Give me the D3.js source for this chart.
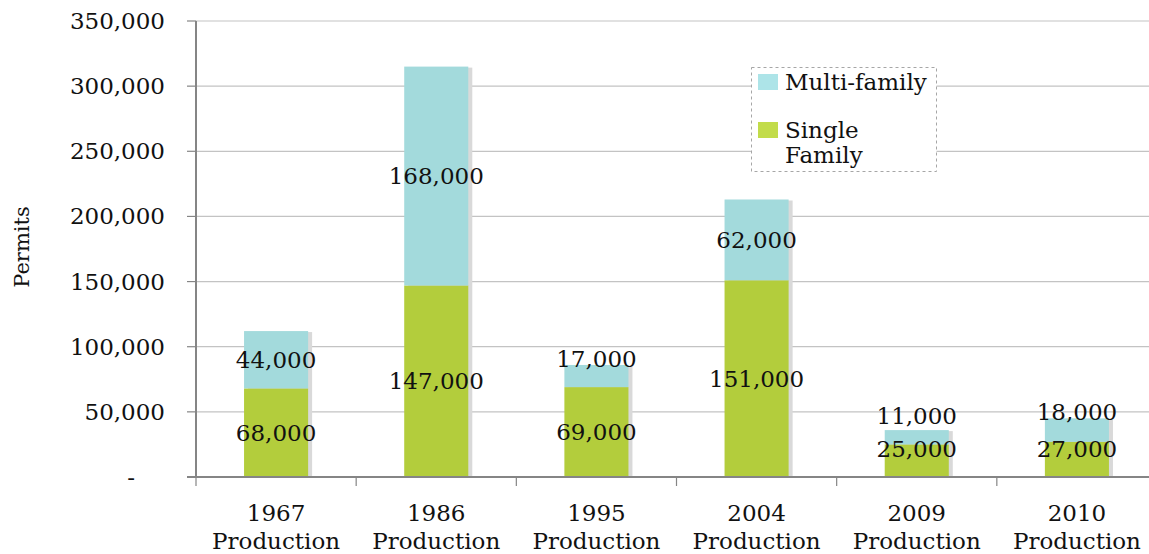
<!DOCTYPE html>
<html><head><meta charset="utf-8">
<script src="https://cdn.jsdelivr.net/npm/d3@7"></script>
<style>
body{margin:0;background:#fff;}
text{font-family:"DejaVu Serif",serif;fill:#111;}
</style></head>
<body><svg id="c" width="1149" height="554"></svg>
<script>
const years = ["1967","1986","1995","2004","2009","2010"];
const subLabel = "Production";
const singleFamily = [68000,147000,69000,151000,25000,27000];
const multiFamily = [44000,168000,17000,62000,11000,18000];
const yTicks = [0,50000,100000,150000,200000,250000,300000,350000];
const seriesNames = ["Multi-family","Single Family"];

const W=1149,H=554;
const svg=d3.select("#c");
const pLeft=196, pRight=1157, pTop=21, pBottom=477;
const x=d3.scaleBand().domain(years).range([pLeft,pRight]).paddingInner(0.6).paddingOuter(0.3);
const y=d3.scaleLinear().domain([0,350000]).range([pBottom,pTop]);
const fmt=d3.format(",");
const cSingle="#b3cd3c", cMulti="#a3dadc", cShadow="#d9d9d9", axisC="#858585", gridC="#c3c3c3";

// gridlines
svg.append("g").selectAll("line").data(yTicks.filter(d=>d>0)).join("line")
  .attr("x1",pLeft).attr("x2",W).attr("y1",d=>y(d)).attr("y2",d=>y(d))
  .attr("stroke",gridC).attr("stroke-width",1.2);
// y tick marks
svg.append("g").selectAll("line").data(yTicks).join("line")
  .attr("x1",pLeft-9).attr("x2",pLeft).attr("y1",d=>y(d)).attr("y2",d=>y(d))
  .attr("stroke",axisC).attr("stroke-width",1.2);
// y labels
svg.append("g").selectAll("text").data(yTicks).join("text")
  .attr("x",d=>d===0?135:165).attr("y",d=>y(d)).attr("dy","0.35em")
  .attr("text-anchor","end").attr("font-size",23)
  .text(d=>d===0?"-":fmt(d));
// y title
svg.append("text").attr("transform","translate(29,247) rotate(-90)")
  .attr("text-anchor","middle").attr("font-size",21).text("Permits");

// bars
const data=years.map((yr,i)=>({yr,s:singleFamily[i],m:multiFamily[i]}));
const g=svg.append("g");
g.selectAll("rect.sh").data(data).join("rect").attr("class","sh")
  .attr("x",d=>x(d.yr)+4).attr("width",x.bandwidth())
  .attr("y",d=>y(d.s+d.m)+1).attr("height",d=>pBottom-y(d.s+d.m)-1)
  .attr("fill",cShadow);
g.selectAll("rect.s").data(data).join("rect").attr("class","s")
  .attr("x",d=>x(d.yr)).attr("width",x.bandwidth())
  .attr("y",d=>y(d.s)).attr("height",d=>pBottom-y(d.s)).attr("fill",cSingle);
g.selectAll("rect.m").data(data).join("rect").attr("class","m")
  .attr("x",d=>x(d.yr)).attr("width",x.bandwidth())
  .attr("y",d=>y(d.s+d.m)).attr("height",d=>y(d.s)-y(d.s+d.m)).attr("fill",cMulti);

// axes lines
svg.append("line").attr("x1",pLeft).attr("x2",pLeft).attr("y1",pTop).attr("y2",pBottom)
  .attr("stroke",axisC).attr("stroke-width",2);
svg.append("line").attr("x1",pLeft-9).attr("x2",W).attr("y1",pBottom).attr("y2",pBottom)
  .attr("stroke",axisC).attr("stroke-width",2);
const step=x.step();
svg.append("g").selectAll("line").data(d3.range(years.length+1)).join("line")
  .attr("x1",i=>pLeft+i*step).attr("x2",i=>pLeft+i*step)
  .attr("y1",pBottom).attr("y2",pBottom+9).attr("stroke",axisC).attr("stroke-width",1.2);

// value labels
const lab=svg.append("g").attr("font-size",23).attr("text-anchor","middle");
data.forEach(d=>{
  const cx=x(d.yr)+x.bandwidth()/2;
  const sTop=y(d.s), sCen=(pBottom+sTop)/2;
  const sY=Math.min(sCen,pBottom-28);
  const mTop=y(d.s+d.m), mCen=(sTop+mTop)/2;
  let mY=mCen;
  if(sTop-mTop<40) mY=Math.min(mTop-6,sY-33);
  lab.append("text").attr("x",cx).attr("y",sY).attr("dy","0.35em").text(fmt(d.s));
  lab.append("text").attr("x",cx).attr("y",mY).attr("dy","0.35em").text(fmt(d.m));
});

// x labels
const xl=svg.append("g").attr("font-size",23).attr("text-anchor","middle");
years.forEach(yr=>{
  const cx=x(yr)+x.bandwidth()/2;
  xl.append("text").attr("x",cx).attr("y",521).text(yr);
  xl.append("text").attr("x",cx).attr("y",549).text(subLabel);
});

// legend
const lg=svg.append("g");
lg.append("rect").attr("x",751.5).attr("y",67.5).attr("width",185).attr("height",104)
  .attr("fill","#fff").attr("stroke","#a6a6a6").attr("stroke-dasharray","3,3").attr("stroke-width",1);
lg.append("rect").attr("x",758).attr("y",74).attr("width",20).attr("height",16).attr("fill","#ade4e8");
lg.append("rect").attr("x",758).attr("y",122).attr("width",20).attr("height",16).attr("fill","#c2dc4a");
lg.append("text").attr("x",785).attr("y",90).attr("font-size",23).text(seriesNames[0]);
const sn=seriesNames[1].split(" ");
lg.append("text").attr("x",785).attr("y",138).attr("font-size",23).text(sn[0]);
lg.append("text").attr("x",785).attr("y",163).attr("font-size",23).text(sn[1]);
</script></body></html>
